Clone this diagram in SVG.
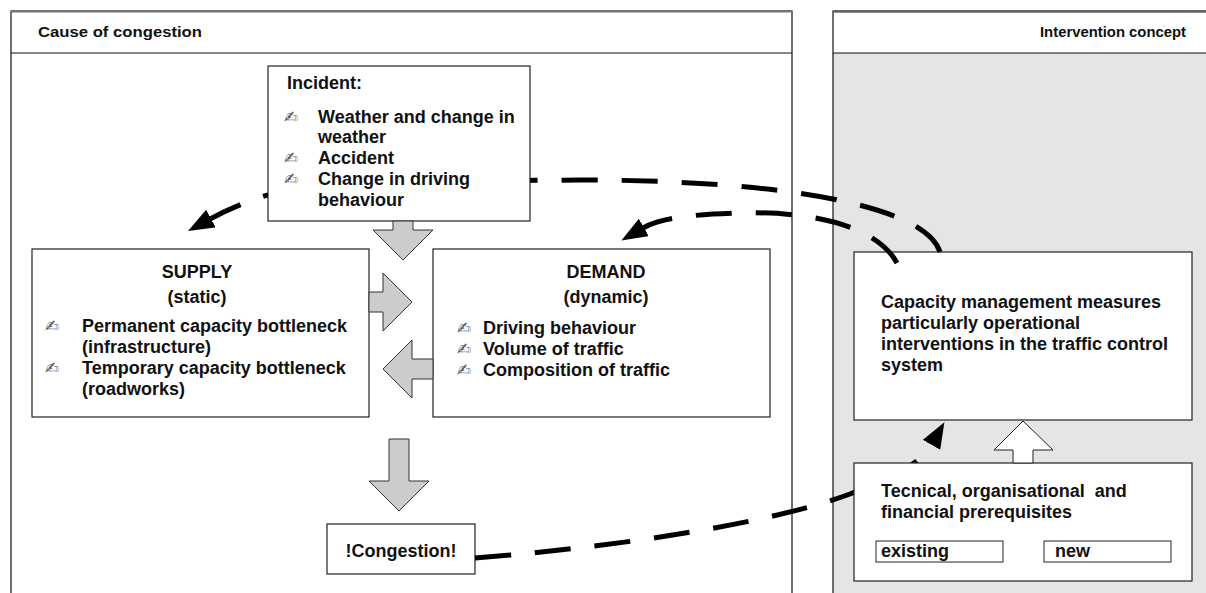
<svg xmlns="http://www.w3.org/2000/svg" width="1206" height="593" viewBox="0 0 1206 593">
<defs>
<style>
.t{font-family:"Liberation Sans",Arial,sans-serif;font-weight:bold;font-size:18px;fill:#111}
.h{font-family:"Liberation Sans",Arial,sans-serif;font-weight:bold;font-size:15.5px;fill:#111}
.b{font-family:"DejaVu Sans",sans-serif;font-size:17px;fill:#555}
.box{fill:#fff;stroke:#222;stroke-width:1.2}
.blk{fill:#cccccc;stroke:#333;stroke-width:1}
.dash{fill:none;stroke:#000;stroke-width:5;stroke-dasharray:36 24}
</style>
<marker id="ah" markerUnits="userSpaceOnUse" markerWidth="28" markerHeight="22" refX="1" refY="10" orient="auto" viewBox="0 0 28 22">
<path d="M0,0 L26,10 L0,20 z" fill="#000"/>
</marker>
</defs>
<rect width="1206" height="593" fill="#fff"/>
<g id="panel-cause">
<rect x="11" y="11" width="781" height="600" fill="#fff" stroke="#111" stroke-width="1.2"/>
<line x1="11" y1="11.5" x2="792" y2="11.5" stroke="#777" stroke-width="2"/>
<line x1="11" y1="53" x2="792" y2="53" stroke="#111" stroke-width="1.2"/>
<text class="h" x="38" y="37" textLength="164" lengthAdjust="spacingAndGlyphs">Cause of congestion</text>
</g>
<g id="panel-intervention">
<rect x="833" y="53" width="400" height="560" fill="#e5e5e5"/>
<rect x="833" y="11" width="400" height="600" fill="none" stroke="#111" stroke-width="1.2"/>
<line x1="833" y1="11.5" x2="1206" y2="11.5" stroke="#666" stroke-width="2.5"/>
<line x1="833" y1="53" x2="1206" y2="53" stroke="#111" stroke-width="1.2"/>
<text class="h" x="1186" y="37" text-anchor="end" textLength="146" lengthAdjust="spacingAndGlyphs">Intervention concept</text>
</g>
<g id="supply">
<rect class="box" x="32" y="249" width="337" height="168"/>
<text class="t" x="197" y="278" text-anchor="middle">SUPPLY</text>
<text class="t" x="197" y="303" text-anchor="middle">(static)</text>
<text class="b" x="45" y="332">✍</text>
<text class="t" x="82" y="332">Permanent capacity bottleneck</text>
<text class="t" x="82" y="353">(infrastructure)</text>
<text class="b" x="45" y="374">✍</text>
<text class="t" x="82" y="374">Temporary capacity bottleneck</text>
<text class="t" x="82" y="395">(roadworks)</text>
</g>
<g id="demand">
<rect class="box" x="433" y="249" width="337" height="168"/>
<text class="t" x="606" y="278" text-anchor="middle">DEMAND</text>
<text class="t" x="606" y="303" text-anchor="middle">(dynamic)</text>
<text class="b" x="457" y="334">✍</text>
<text class="t" x="483" y="334">Driving behaviour</text>
<text class="b" x="457" y="355">✍</text>
<text class="t" x="483" y="355">Volume of traffic</text>
<text class="b" x="457" y="376">✍</text>
<text class="t" x="483" y="376">Composition of traffic</text>
</g>
<g id="congestion">
<rect class="box" x="327" y="524" width="148" height="50"/>
<text class="t" x="401" y="557" text-anchor="middle">!Congestion!</text>
</g>
<g id="capacity">
<rect class="box" x="854" y="252" width="338" height="168"/>
<text class="t" x="881" y="308">Capacity management measures</text>
<text class="t" x="881" y="329">particularly operational</text>
<text class="t" x="881" y="350">interventions in the traffic control</text>
<text class="t" x="881" y="371">system</text>
</g>
<g id="connectors">
<path class="dash" d="M 940 252 C 925 205 780 180 580 180 L 340 182 C 290 185 245 200 210 219" marker-end="url(#ah)"/>
<path class="dash" d="M 897 263 C 875 222 800 211 740 213 C 700 214 662 217 643 228" marker-end="url(#ah)"/>
<path class="dash" d="M 475 558 C 640 545 780 520 850 494 C 890 478 920 465 932 444" marker-end="url(#ah)"/>
</g>
<g id="incident">
<rect class="box" x="268" y="66" width="262" height="155"/>
<text class="t" x="287" y="89">Incident:</text>
<text class="b" x="284" y="123">✍</text>
<text class="t" x="318" y="123">Weather and change in</text>
<text class="t" x="318" y="143">weather</text>
<text class="b" x="284" y="164">✍</text>
<text class="t" x="318" y="164">Accident</text>
<text class="b" x="284" y="185">✍</text>
<text class="t" x="318" y="185">Change in driving</text>
<text class="t" x="318" y="206">behaviour</text>
</g>
<g id="prerequisites">
<rect class="box" x="854" y="463" width="338" height="118"/>
<text class="t" x="881" y="497" xml:space="preserve">Tecnical, organisational  and</text>
<text class="t" x="881" y="518">financial prerequisites</text>
<g id="existing">
<rect x="876" y="541" width="127" height="21" fill="#fff" stroke="#222" stroke-width="1"/>
<text class="t" x="881" y="557">existing</text>
</g>
<g id="new">
<rect x="1044" y="541" width="127" height="21" fill="#fff" stroke="#222" stroke-width="1"/>
<text class="t" x="1055" y="557">new</text>
</g>
</g>
<g id="block-arrows">
<polygon class="blk" points="393,221 413,221 413,230 433,230 403,260 373,230 393,230"/>
<polygon class="blk" points="369,292 383,292 383,273 412,302 383,331 383,312 369,312"/>
<polygon class="blk" points="433,359 412,359 412,340 383,369 412,398 412,379 433,379"/>
<polygon class="blk" points="389,439 409,439 409,481 429,481 399,511 369,481 389,481"/>
<polygon points="1023,421 1053,450 1033,450 1033,463 1013,463 1013,450 994,450" fill="#fff" stroke="#222" stroke-width="1"/>
</g>
</svg>
